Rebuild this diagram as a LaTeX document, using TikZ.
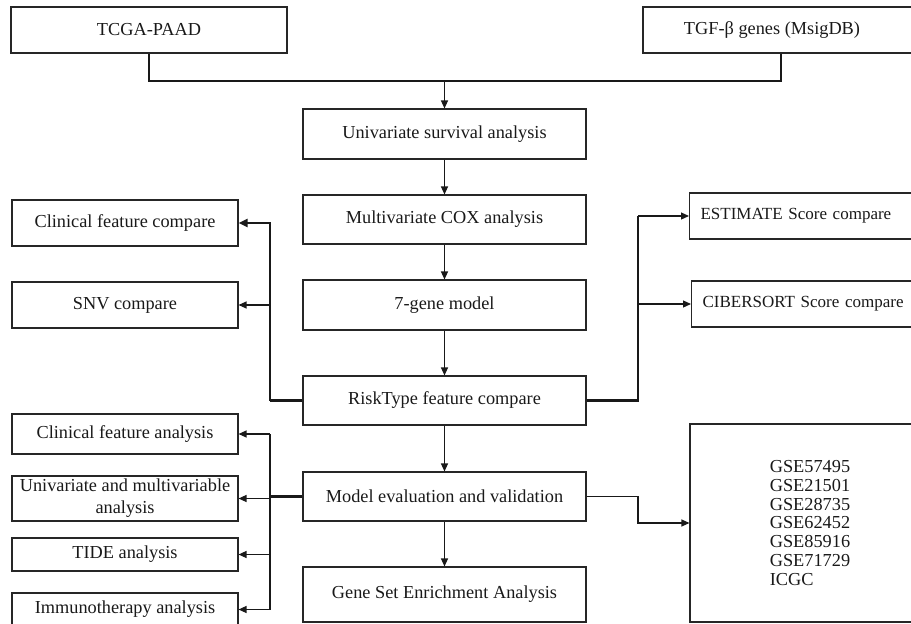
\documentclass[tikz,border=0pt]{standalone}
\usepackage{fontspec}
\setmainfont{Liberation Serif}
\usetikzlibrary{arrows.meta}
\begin{document}
\begin{tikzpicture}[x=1pt,y=-1pt,
  box/.style={draw=black!85, line width=1.1pt, inner sep=0pt, font=\fontsize{18.3}{18.8}\selectfont, text=black!90},
  mainbox/.style={box, minimum width=283pt},
  leftbox/.style={box, minimum width=226pt},
  rightbox/.style={box, anchor=west, inner xsep=11pt, text width=300pt, align=left, font=\fontsize{17}{18.8}\selectfont},
  conn/.style={line width=1.2pt, draw=black!90},
  thickconn/.style={line width=2.8pt, draw=black!90},
  medconn/.style={line width=1.8pt, draw=black!90},
  arr/.style={-{Triangle[length=8pt,width=7pt]}}
]
\useasboundingbox (0,0) rectangle (911,624);

% top
\node[box, minimum width=276pt, minimum height=46pt] (tcga) at (149,30) {TCGA-PAAD};
\node[box, minimum width=272pt, minimum height=46pt] (tgf) at (779,30) {TGF-β genes (MsigDB)\kern14pt};

% main column
\node[mainbox, minimum height=50pt] (univ) at (444.5,134) {Univariate survival analysis};
\node[mainbox, minimum height=49pt] (multi) at (444.5,219.5) {Multivariate COX analysis};
\node[mainbox, minimum height=50pt] (gene7) at (444.5,305) {7-gene model};
\node[mainbox, minimum height=49pt] (risk) at (444.5,400.5) {RiskType feature compare};
\node[mainbox, minimum height=49pt] (model) at (444.5,496.5) {Model evaluation and validation};
\node[mainbox, minimum height=55pt] (gsea) at (444.5,594.5) {Gene Set Enrichment Analysis};

% left column
\node[leftbox, minimum height=46pt] (ccomp) at (125,223) {Clinical feature compare};
\node[leftbox, minimum height=46pt] (snv) at (125,305) {SNV compare};
\node[leftbox, minimum height=40pt] (cana) at (125,434) {Clinical feature analysis};
\node[leftbox, minimum height=45pt, align=center, font=\fontsize{18.3}{22}\selectfont] (unimulti) at (125,498.5) {Univariate and multivariable\\analysis};
\node[leftbox, minimum height=33pt] (tide) at (125,554.5) {TIDE analysis};
\node[leftbox, minimum height=33pt] (immuno) at (125,609.5) {Immunotherapy analysis};

% right column
\node[rightbox, minimum height=46pt] (estimate) at (689,216) {ESTIMATE Score compare};
\node[rightbox, minimum height=46pt] (cibersort) at (691,304) {CIBERSORT Score compare};
\node[box, minimum width=240pt, minimum height=198pt, align=left] (gse) at (810,523) {GSE57495\\GSE21501\\GSE28735\\GSE62452\\GSE85916\\GSE71729\\ICGC};

% junctions
\coordinate (jtop) at (444.5,81);
\coordinate (jl1) at (270,400.5);
\coordinate (jl2) at (270,496.5);
\coordinate (jr1) at (638,400.5);
\coordinate (jr2) at (638,496.5);

% top merge
\draw[conn] (tcga.south) |- (jtop);
\draw[conn] ([xshift=2pt]tgf.south) |- (jtop);
\draw[conn, arr] (jtop) -- (univ.north);

% main flow
\draw[conn, arr] (univ) -- (multi);
\draw[conn, arr] (multi) -- (gene7);
\draw[conn, arr] (gene7) -- (risk);
\draw[conn, arr] (risk) -- (model);
\draw[conn, arr] (model) -- (gsea);

% RiskType left
\draw[thickconn] (risk.west) -- (jl1);
\draw[thickconn, -{Triangle[length=9pt,width=8pt]}] (jl1) |- (ccomp.east);
\draw[conn, arr] (snv.east -| jl1) -- (snv.east);

% RiskType right
\draw[thickconn] (risk.east) -- ([xshift=1pt]jr1);
\draw[medconn] (jr1) -- (jr1 |- estimate.west);
\draw[conn, arr] (jr1 |- estimate.west) -- (estimate.west);
\draw[conn, arr] (jr1 |- cibersort.west) -- (cibersort.west);

% Model evaluation left
\draw[thickconn] (model.west) -- (jl2);
\draw[conn] (jl2 |- cana.east) -- (jl2 |- immuno.east);
\draw[conn, arr] (jl2 |- cana.east) -- (cana.east);
\draw[conn, arr] (jl2 |- unimulti.east) -- (unimulti.east);
\draw[conn, arr] (jl2 |- tide.east) -- (tide.east);
\draw[conn, arr] (jl2 |- immuno.east) -- (immuno.east);

% Model evaluation right
\draw[conn, arr] (model.east) -- (jr2) |- (gse.west);
\end{tikzpicture}
\end{document}
